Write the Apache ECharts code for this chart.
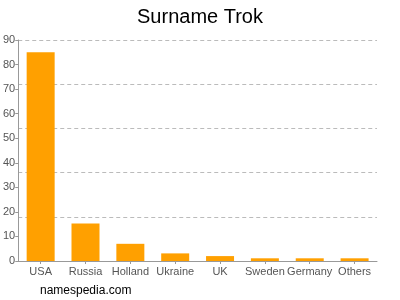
<!DOCTYPE html>
<html><head><meta charset="utf-8">
<script src="https://cdn.jsdelivr.net/npm/echarts@6/dist/echarts.min.js"></script>
<style>html,body{margin:0;padding:0;background:#fff}#c{width:400px;height:300px}</style>
</head><body><div id="c"></div>
<script>
const categories = ["USA","Russia","Holland","Ukraine","UK","Sweden","Germany","Others"];
const values = [85, 15.3, 7, 3.1, 2, 1.1, 1.1, 1.1];
const yTicks = [0,10,20,30,40,50,60,70,80,90];
const gridLines = [18,36,54,72,90];

const chart = echarts.init(document.getElementById('c'), null, {renderer:'canvas'});
chart.setOption({
  animation:false,
  title:{text:'Surname Trok', left:'center', top:2, textStyle:{fontFamily:'Liberation Sans, Arial', fontSize:20, fontWeight:'normal', color:'#000'}},
  graphic:[{type:'text', left:40, top:285, style:{text:'namespedia.com', font:'12px "Liberation Sans", Arial', fill:'#000'}}],
  grid:{left:17, right:23, top:40, bottom:39},
  xAxis:{type:'category', data:categories,
    axisLine:{lineStyle:{color:'#999'}}, axisTick:{show:true, alignWithLabel:true, length:3, lineStyle:{color:'#999'}},
    axisLabel:{color:'#555', fontSize:11, fontFamily:'Liberation Sans, Arial', margin:5, interval:0}},
  yAxis:[{type:'value', min:0, max:90, interval:10,
    axisLine:{show:true, lineStyle:{color:'#999'}}, axisTick:{show:true, length:3, lineStyle:{color:'#999'}},
    axisLabel:{color:'#555', fontSize:11, fontFamily:'Liberation Sans, Arial', margin:3},
    splitLine:{show:false}},
    {type:'value', min:0, max:90, interval:18, position:'left', show:true,
    axisLine:{show:false}, axisTick:{show:false}, axisLabel:{show:false},
    splitLine:{show:true, lineStyle:{color:'#bbb', type:[4,3]}}}],
  series:[{type:'bar', data:values, barWidth:28, itemStyle:{color:'#ffa000'}, yAxisIndex:0}]
});
</script></body></html>
